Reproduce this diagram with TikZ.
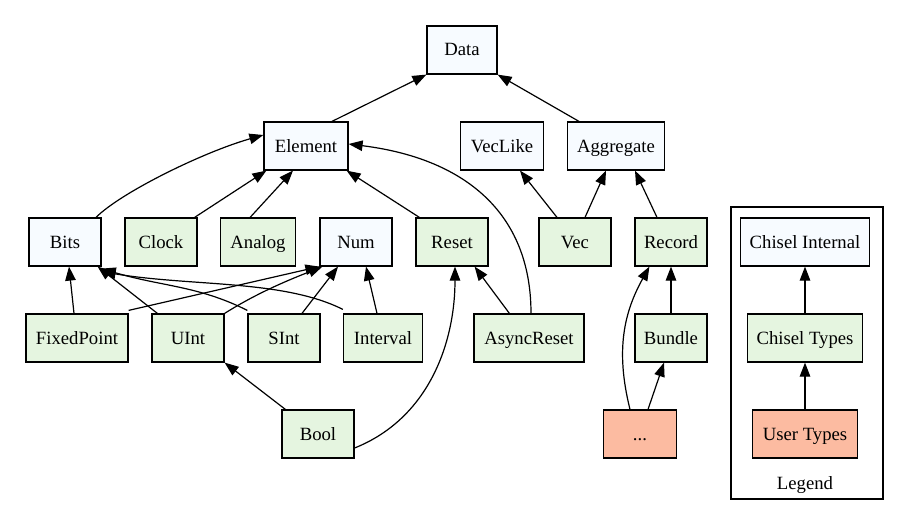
\documentclass[tikz,border=0pt]{standalone}
\usepackage{fontspec}
\setmainfont{Liberation Serif}
\usetikzlibrary{arrows.meta}
\definecolor{cblue}{HTML}{F7FBFF}
\definecolor{cgreen}{HTML}{E5F5E0}
\definecolor{cred}{HTML}{FCBBA1}
\tikzset{
  box/.style={draw=black, line width=1.2pt, minimum height=48pt, inner sep=0pt,
    text height=16pt, text depth=4pt,
    font=\fontsize{18.7}{22}\selectfont, minimum width=#1},
  box/.default=72pt,
  internal/.style={box=#1, fill=cblue},
  internal/.default=72pt,
  ctype/.style={box=#1, fill=cgreen},
  ctype/.default=72pt,
  utype/.style={box=#1, fill=cred},
  utype/.default=72pt,
  edge/.style={draw=black, line width=1.2pt, -{Triangle[length=14pt,width=10.5pt]}},
  cluster/.style={draw=black, line width=1.2pt},
  lbl/.style={font=\fontsize{18.7}{22}\selectfont, inner sep=0pt}
}
\begin{document}
\begin{tikzpicture}[x=1pt,y=-1pt]
\useasboundingbox (0,0) rectangle (899,516);
% nodes
\node[internal=70pt] (data) at (462,50) {Data};
\node[internal=84pt] (element) at (306,146) {Element};
\node[internal=83pt] (veclike) at (502,146) {VecLike};
\node[internal=97pt] (aggregate) at (616,146) {Aggregate};
\node[internal] (bits) at (65,242) {Bits};
\node[ctype] (clock) at (161,242) {Clock};
\node[ctype=75pt] (analog) at (258,242) {Analog};
\node[internal] (num) at (356,242) {Num};
\node[ctype] (reset) at (452,242) {Reset};
\node[ctype] (vec) at (575,242) {Vec};
\node[ctype] (record) at (671,242) {Record};
\node[ctype=102pt] (fixedpoint) at (77,338) {FixedPoint};
\node[ctype] (uint) at (188,338) {UInt};
\node[ctype] (sint) at (284,338) {SInt};
\node[ctype=79pt] (interval) at (383,338) {Interval};
\node[ctype=110pt] (asyncreset) at (529,338) {AsyncReset};
\node[ctype] (bundle) at (671,338) {Bundle};
\node[ctype] (bool) at (318,434) {Bool};
\node[utype=73pt] (dots) at (640,434) {...};
% legend
\node[internal=129pt] (lint) at (805,242) {Chisel Internal};
\node[ctype=115pt] (ltypes) at (805,338) {Chisel Types};
\node[utype=105pt] (luser) at (805,434) {User Types};
\node[lbl] (legend) at (805,485) {Legend};
\coordinate (clA) at (731,207);
\coordinate (clB) at (883,499);
\draw[cluster] (clA) rectangle (clB);
% edges
\draw[edge] ([xshift=26pt]element.north) -- (data.south west);
\draw[edge] ([xshift=-37pt]aggregate.north) -- (data.south east);
\draw[edge] ([xshift=31pt]bits.north) .. controls +(25,-25) and +(-60,17) .. ([yshift=11pt]element.west);
\draw[edge] ([xshift=-3pt]clock.north east) -- ([xshift=3pt]element.south west);
\draw[edge] ([xshift=-46pt]analog.north east) -- ([xshift=-13pt]element.south);
\draw[edge] ([xshift=4pt]reset.north west) -- ([xshift=-2pt]element.south east);
\draw[edge] ([xshift=2pt]asyncreset.north) .. controls +(0,-103) and +(113,14) .. ([yshift=2pt]element.east);
\draw[edge] ([xshift=-18pt]vec.north) -- ([xshift=18pt]veclike.south);
\draw[edge] ([xshift=10pt]vec.north) -- ([xshift=-10pt]aggregate.south);
\draw[edge] ([xshift=-14pt]record.north) -- ([xshift=19pt]aggregate.south);
\draw[edge] ([xshift=-3pt]fixedpoint.north) -- ([xshift=4pt]bits.south);
\draw[edge] ([yshift=3pt]fixedpoint.north east) -- (num.south west);
\draw[edge] ([xshift=6pt]uint.north west) -- ([xshift=-4pt]bits.south east);
\draw[edge] (uint.north east) .. controls +(35,-22) and +(-30,12) .. ([xshift=3pt]num.south west);
\draw[edge] ([yshift=3pt]sint.north west) .. controls +(-50,-25) and +(60,18) .. ([yshift=-2pt]bits.south east);
\draw[edge] ([xshift=18pt]sint.north) -- ([xshift=-18pt]num.south);
\draw[edge] ([yshift=4pt]interval.north west) .. controls +(-60,-30) and +(90,15) .. ([yshift=-5pt]bits.south east);
\draw[edge] ([xshift=-6pt]interval.north) -- ([xshift=10pt]num.south);
\draw[edge] ([xshift=36pt]asyncreset.north west) -- ([xshift=-14pt]reset.south east);
\draw[edge] ([xshift=4pt]bool.north west) -- (uint.south east);
\draw[edge] ([yshift=-14pt]bool.east) .. controls +(75,-30) and +(0,75) .. ([xshift=3pt]reset.south);
\draw[edge] (bundle.north) -- (record.south);
\draw[edge] ([xshift=8pt]dots.north) -- ([xshift=-7pt]bundle.south);
\draw[edge] ([xshift=-10pt]dots.north) .. controls +(-15,-60) and +(-25,45) .. ([xshift=15pt]record.south west);
\draw[edge] (luser) -- (ltypes);
\draw[edge] (ltypes) -- (lint);
\end{tikzpicture}
\end{document}
